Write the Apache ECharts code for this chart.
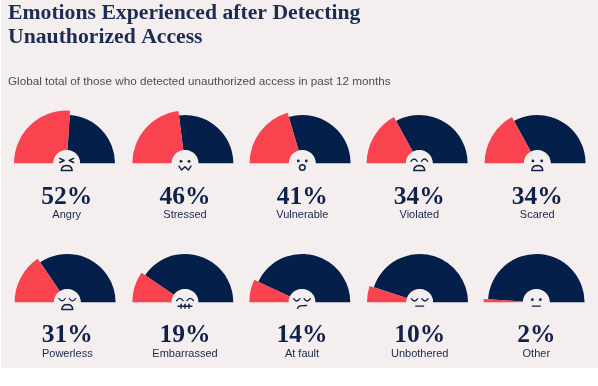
<!DOCTYPE html>
<html><head><meta charset="utf-8"><style>html,body{margin:0;padding:0;background:#fff}#c{width:598px;height:386px}</style>
<script src="https://cdn.jsdelivr.net/npm/echarts@6/dist/echarts.min.js"></script></head>
<body><div id="c"></div>
<script>
const titleLines = ["Emotions Experienced after Detecting", "Unauthorized Access"];
const subtitle = "Global total of those who detected unauthorized access in past 12 months";
const emotions = ["Angry","Stressed","Vulnerable","Violated","Scared","Powerless","Embarrassed","At fault","Unbothered","Other"];
const percents = [52,46,41,34,34,31,19,14,10,2];
const faces = ["angry","stressed","vulnerable","violated","scared","powerless","embarrassed","fault","unbothered","other"];
const centerX = [66.7,185,302.3,419.3,537.3,67.3,185,302,419.7,536.3];
const baselineY = [163.3,302.3];

const RED="#f9434f", NAVY="#04204a", BG="#f5eeef", HUB="#f4efef", INK="#12214a";
const series=[], titles=[], gfx=[];
gfx.push({type:'rect',z:-10,shape:{x:1,y:0,width:597,height:368},style:{fill:BG}});

titleLines.forEach((t,i)=>titles.push({text:t,left:8,top:13.5+i*23.5,textAlign:'left',textVerticalAlign:'middle',
  textStyle:{fontFamily:'Liberation Serif',fontWeight:'bold',fontSize:21.7,color:'#1d2c53'},padding:0}));
titles.push({text:subtitle,left:8,top:81.5,textAlign:'left',textVerticalAlign:'middle',padding:0,
  textStyle:{fontFamily:'Liberation Sans',fontWeight:'normal',fontSize:11.7,color:'#4c4c52'}});

const line=(pts)=>({type:'polyline',shape:{points:pts},
  style:{fill:'none',stroke:INK,lineWidth:1.4,lineJoin:'round',lineCap:'round'}});
const dot=(x,y)=>({type:'circle',shape:{cx:x,cy:y,r:1.4},style:{fill:INK}});
const dots=()=>[dot(-4,-2),dot(4,-2)];
const arch=()=>[{type:'polygon',shape:{points:[[-5.5,7.2],[-4.8,4.6],[-3,2.8],[0,2.1],[3,2.8],[4.8,4.6],[5.5,7.2]]},
  style:{fill:'none',stroke:INK,lineWidth:1.5,lineJoin:'round'}}];
const curve=(x,y,up)=>({type:'bezierCurve',shape:{x1:x-3.2,y1:y,x2:x+3.2,y2:y,cpx1:x,cpy1:y+(up?-4.6:4.6)},
  style:{fill:'none',stroke:INK,lineWidth:1.3,lineCap:'round'}});
const faceShapes={
  angry:()=>[line([[-7,-5],[-2.5,-2.8],[-7,-0.8]]),line([[7,-5],[2.5,-2.8],[7,-0.8]]),...arch()],
  stressed:()=>[...dots(),line([[-6,2.8],[-3.4,6.8],[0,3.4],[3.4,6.8],[6,2.8]])],
  vulnerable:()=>[dot(-4,-2.4),dot(4,-2.4),{type:'circle',shape:{cx:0,cy:4.2,r:2.8},style:{fill:'none',stroke:INK,lineWidth:1.5}}],
  violated:()=>[curve(-5.2,-2,true),curve(5.2,-2,true),...arch()],
  scared:()=>[dot(-4.4,-2.4),dot(4.4,-2.4),...arch()],
  powerless:()=>[curve(-5.2,-3.8,false),curve(5.2,-3.8,false),...arch()],
  embarrassed:()=>[curve(-5.2,-1.6,true),curve(5.2,-1.6,true),line([[-7,4],[7,4]]),line([[-4,2],[-4,6]]),line([[0,2],[0,6]]),line([[4,2],[4,6]])],
  fault:()=>[curve(-5.2,-3.6,false),curve(5.2,-3.6,false),line([[-4.5,6.2],[-3.4,4.4],[-1.8,3.6],[4.5,3.2]])],
  unbothered:()=>[curve(-5.2,-3.6,false),curve(5.2,-3.6,false),line([[-4,3.8],[4,3.8]])],
  other:()=>[dot(-4,-2.6),dot(4,-2.6),line([[-4,3.8],[4,3.8]])]
};

emotions.forEach((name,i)=>{
  const row=i<5?0:1, cx=centerX[i], by=baselineY[row], v=percents[i];
  const common={type:'pie',center:[cx,by],startAngle:180,endAngle:0,clockwise:true,silent:true,animation:false,
    label:{show:false},labelLine:{show:false},emphasis:{disabled:true},padAngle:0,minAngle:0,avoidLabelOverlap:false};
  series.push({...common,name:name+' rest',radius:[13,48.3],z:2,data:[
    {value:v,itemStyle:{color:'transparent'}},{value:100-v,itemStyle:{color:NAVY}}]});
  series.push({...common,name:name,radius:[13,52.7],z:3,data:[
    {value:v,itemStyle:{color:RED}},{value:100-v,itemStyle:{color:'transparent'}}]});
  gfx.push({type:'circle',z:5,shape:{cx:cx,cy:by,r:13.4},style:{fill:HUB}});
  gfx.push({type:'group',z:6,x:cx,y:by,children:faceShapes[faces[i]]().map(o=>({...o,z:6}))});
  titles.push({text:v+'%',left:cx,top:row?335:197.7,textAlign:'center',textVerticalAlign:'middle',padding:0,
    textStyle:{fontFamily:'Liberation Serif',fontWeight:'bold',fontSize:25.5,color:'#10214a'}});
  titles.push({text:name,left:cx,top:row?354:215.3,textAlign:'center',textVerticalAlign:'middle',padding:0,
    textStyle:{fontFamily:'Liberation Sans',fontWeight:'normal',fontSize:11,color:'#18264a'}});
});

const chart=echarts.init(document.getElementById('c'),null,{renderer:'canvas'});
chart.setOption({backgroundColor:'#fff',animation:false,title:titles,series:series,graphic:gfx});
</script></body></html>
